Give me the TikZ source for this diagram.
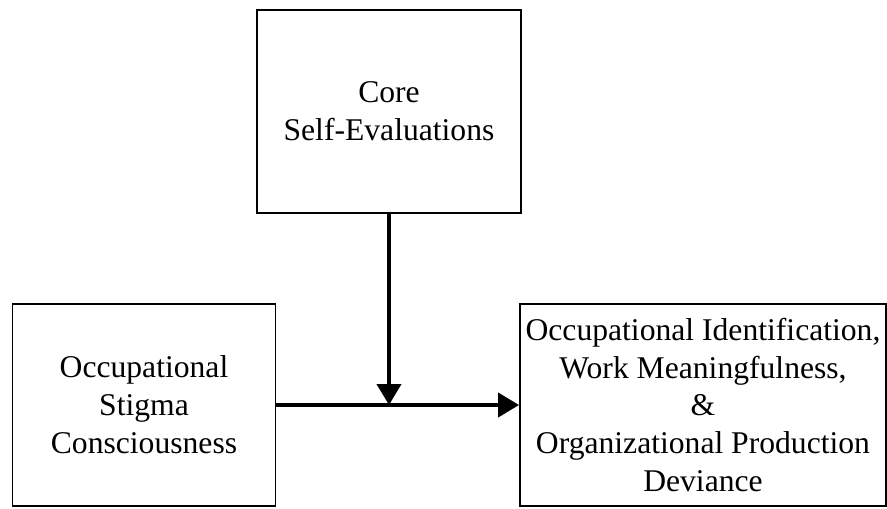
\documentclass[tikz,border=0pt]{standalone}
\usepackage{fontspec}
\setmainfont{Liberation Serif}
\usetikzlibrary{arrows.meta,positioning,calc}

\begin{document}
\begin{tikzpicture}[
			x=0.02cm, y=-0.02cm,
			>={Triangle[length=0.42cm,width=0.48cm]},
			box/.style={draw, line width=1.1pt, align=center, inner sep=0pt,
				font=\fontsize{18}{21.6}\selectfont},
			link/.style={->, line width=2.3pt}
			]
			\useasboundingbox (0,0) rectangle (887,508);
			
			\node[box, minimum width=5.28cm, minimum height=4.06cm] (cse) at (389,111.5)
			{Core\\Self-Evaluations};
			\node[box, minimum width=5.26cm, minimum height=4.04cm] (osc) at (144,405)
			{Occupational\\Stigma\\Consciousness};
			\node[box, minimum width=7.32cm, minimum height=4.04cm] (out) at (703,405)
			{Occupational Identification,\\Work Meaningfulness,\\\&\\Organizational Production\\Deviance};
			
			\coordinate (mid) at (cse.south |- osc.east);
			
			\draw[link] (osc.east) -- (out.west);
			\draw[link] (cse.south) -- (mid);
		\end{tikzpicture}
\end{document}
